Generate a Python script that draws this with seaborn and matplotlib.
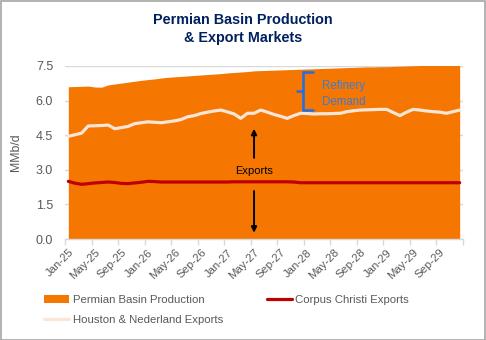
import numpy as np
import pandas as pd
import matplotlib
matplotlib.use("Agg")
import matplotlib.pyplot as plt
import seaborn as sns
from matplotlib.patches import Patch, Rectangle
from matplotlib.lines import Line2D

# ---- data (monthly, Jan-25 .. Dec-29) ----
month_labels = ["Jan-25", "May-25", "Sep-25", "Jan-26", "May-26", "Sep-26", "Jan-27", "May-27",
                "Sep-27", "Jan-28", "May-28", "Sep-28", "Jan-29", "May-29", "Sep-29"]

permian = [6.60, 6.61, 6.62, 6.63, 6.59, 6.58, 6.68, 6.72, 6.76, 6.80,
           6.84, 6.88, 6.91, 6.94, 6.98, 7.01, 7.03, 7.05, 7.07, 7.09,
           7.11, 7.13, 7.15, 7.17, 7.20, 7.22, 7.24, 7.26, 7.29, 7.30,
           7.31, 7.32, 7.33, 7.34, 7.35, 7.36, 7.37, 7.38, 7.39, 7.40,
           7.41, 7.42, 7.43, 7.44, 7.45, 7.46, 7.46, 7.47, 7.47, 7.48,
           7.49, 7.50, 7.51, 7.52, 7.53, 7.54, 7.55, 7.56, 7.57, 7.58]

houston = [4.45, 4.52, 4.59, 4.90, 4.91, 4.92, 4.94, 4.78, 4.83, 4.88,
           5.00, 5.04, 5.08, 5.06, 5.04, 5.08, 5.12, 5.18, 5.30, 5.35,
           5.44, 5.50, 5.55, 5.59, 5.51, 5.42, 5.23, 5.45, 5.45, 5.59,
           5.50, 5.40, 5.32, 5.23, 5.35, 5.45, 5.44, 5.42, 5.43, 5.43,
           5.44, 5.45, 5.52, 5.56, 5.59, 5.60, 5.61, 5.62, 5.62, 5.48,
           5.35, 5.50, 5.62, 5.59, 5.55, 5.52, 5.50, 5.45, 5.52, 5.59]

corpus = [2.50, 2.42, 2.37, 2.40, 2.43, 2.45, 2.47, 2.45, 2.41, 2.40,
          2.43, 2.46, 2.50, 2.49, 2.47, 2.47, 2.47, 2.47, 2.47, 2.47,
          2.47, 2.47, 2.47, 2.47, 2.47, 2.48, 2.48, 2.48, 2.48, 2.48,
          2.48, 2.48, 2.48, 2.48, 2.47, 2.44, 2.44, 2.44, 2.44, 2.44,
          2.44, 2.44, 2.44, 2.44, 2.44, 2.44, 2.44, 2.44, 2.44, 2.44,
          2.44, 2.44, 2.44, 2.44, 2.44, 2.44, 2.44, 2.44, 2.44, 2.44]

yticks = [0.0, 1.5, 3.0, 4.5, 6.0, 7.5]

df = pd.DataFrame({"month": np.arange(len(permian)),
                   "Permian Basin Production": permian,
                   "Houston & Nederland Exports": houston,
                   "Corpus Christi Exports": corpus})

ORANGE = "#F57600"
PEACH = "#FBE5D6"
RED = "#C00000"
GRAY = "#595959"

sns.set_style("white")
plt.rcParams["font.family"] = ["Liberation Sans", "DejaVu Sans"]

fig = plt.figure(figsize=(4.86, 3.40), dpi=100)
ax = fig.add_axes([65 / 486, 1 - 239 / 340, 398 / 486, 173 / 340])

ax.fill_between(df["month"], 0, df["Permian Basin Production"], color=ORANGE, lw=0, zorder=2)
sns.lineplot(data=df, x="month", y="Houston & Nederland Exports", color=PEACH, lw=2.3, ax=ax, zorder=3)
sns.lineplot(data=df, x="month", y="Corpus Christi Exports", color=RED, lw=2.3, ax=ax, zorder=4)

ax.set_xlim(-0.5, len(permian) - 0.5)
ax.set_ylim(0, 7.5)
ax.set_yticks(yticks)
ax.set_yticklabels([f"{v:.1f}" for v in yticks])
ax.grid(axis="y", color="#D9D9D9", lw=1, zorder=0)
ax.set_axisbelow(True)

major = np.arange(-0.5, len(permian), 4)
ax.set_xticks(major)
ax.set_xticklabels([""] * len(major))
ax.set_xticks(np.arange(0, len(permian), 4), minor=True)
ax.set_xticklabels(month_labels, minor=True, rotation=45, ha="right", va="top",
                   rotation_mode="anchor", fontsize=8.2, color=GRAY)
ax.tick_params(axis="x", which="major", length=4, color="#D9D9D9", width=1, direction="out", bottom=True)
ax.tick_params(axis="x", which="minor", length=0, pad=6)
ax.tick_params(axis="y", length=0, labelsize=9, labelcolor=GRAY, pad=8.5)

for s in ["top", "right", "left"]:
    ax.spines[s].set_visible(False)
ax.spines["bottom"].set_color("#D9D9D9")
ax.spines["bottom"].set_linewidth(1)

ax.set_xlabel("")
ax.set_ylabel("MMb/d", fontsize=8.8, color=GRAY)
ax.yaxis.set_label_coords(-0.108, 0.503)

# title
fig.text(243 / 486, 1 - 20 / 340, "Permian Basin Production", ha="center", va="center",
         fontsize=10.4, fontweight="bold", color="#002060")
fig.text(243 / 486, 1 - 38 / 340, "& Export Markets", ha="center", va="center",
         fontsize=10.4, fontweight="bold", color="#002060")

# annotations
ax.text(38.2, 6.29, "Refinery\nDemand", ha="left", va="center", fontsize=8.3,
        color="#3F7CCB", linespacing=1.45, zorder=6)
ax.plot([36.9, 35.4, 35.4, 36.9], [7.25, 7.25, 5.59, 5.59], color="#1E6FE8", lw=1.8,
        solid_joinstyle="miter", zorder=6)
ax.plot([34.4, 35.4], [6.42, 6.42], color="#1E6FE8", lw=1.8, zorder=6)

ax.text(28.0, 2.94, "Exports", ha="center", va="center", fontsize=8.0, color="black", zorder=6)
ax.annotate("", xy=(28.0, 4.9), xytext=(28.0, 3.4),
            arrowprops=dict(arrowstyle="-|>", color="black", lw=1.4, mutation_scale=8), zorder=6)
ax.annotate("", xy=(28.0, 0.15), xytext=(28.0, 2.2),
            arrowprops=dict(arrowstyle="-|>", color="black", lw=1.4, mutation_scale=8), zorder=6)

# legend
handles = [Patch(facecolor=ORANGE, edgecolor="none"),
           Line2D([], [], color=PEACH, lw=2.3),
           Line2D([], [], color=RED, lw=2.3)]
labels = ["Permian Basin Production", "Houston & Nederland Exports", "Corpus Christi Exports"]
fig.legend(handles, labels, ncol=2, loc="upper left", bbox_to_anchor=(35 / 486, 1 - 286 / 340),
           frameon=False, fontsize=8.2, labelcolor=GRAY, handlelength=2.2, handleheight=0.6,
           handletextpad=0.3, columnspacing=3.85, labelspacing=0.85, borderpad=0.3)

# chart border
fig.patches.append(Rectangle((0.5 / 486, 0.5 / 340), 484.5 / 486, 338.5 / 340, transform=fig.transFigure,
                             fill=False, edgecolor="#A6A6A6", lw=1.2))

fig.savefig("out.png", dpi=100)
